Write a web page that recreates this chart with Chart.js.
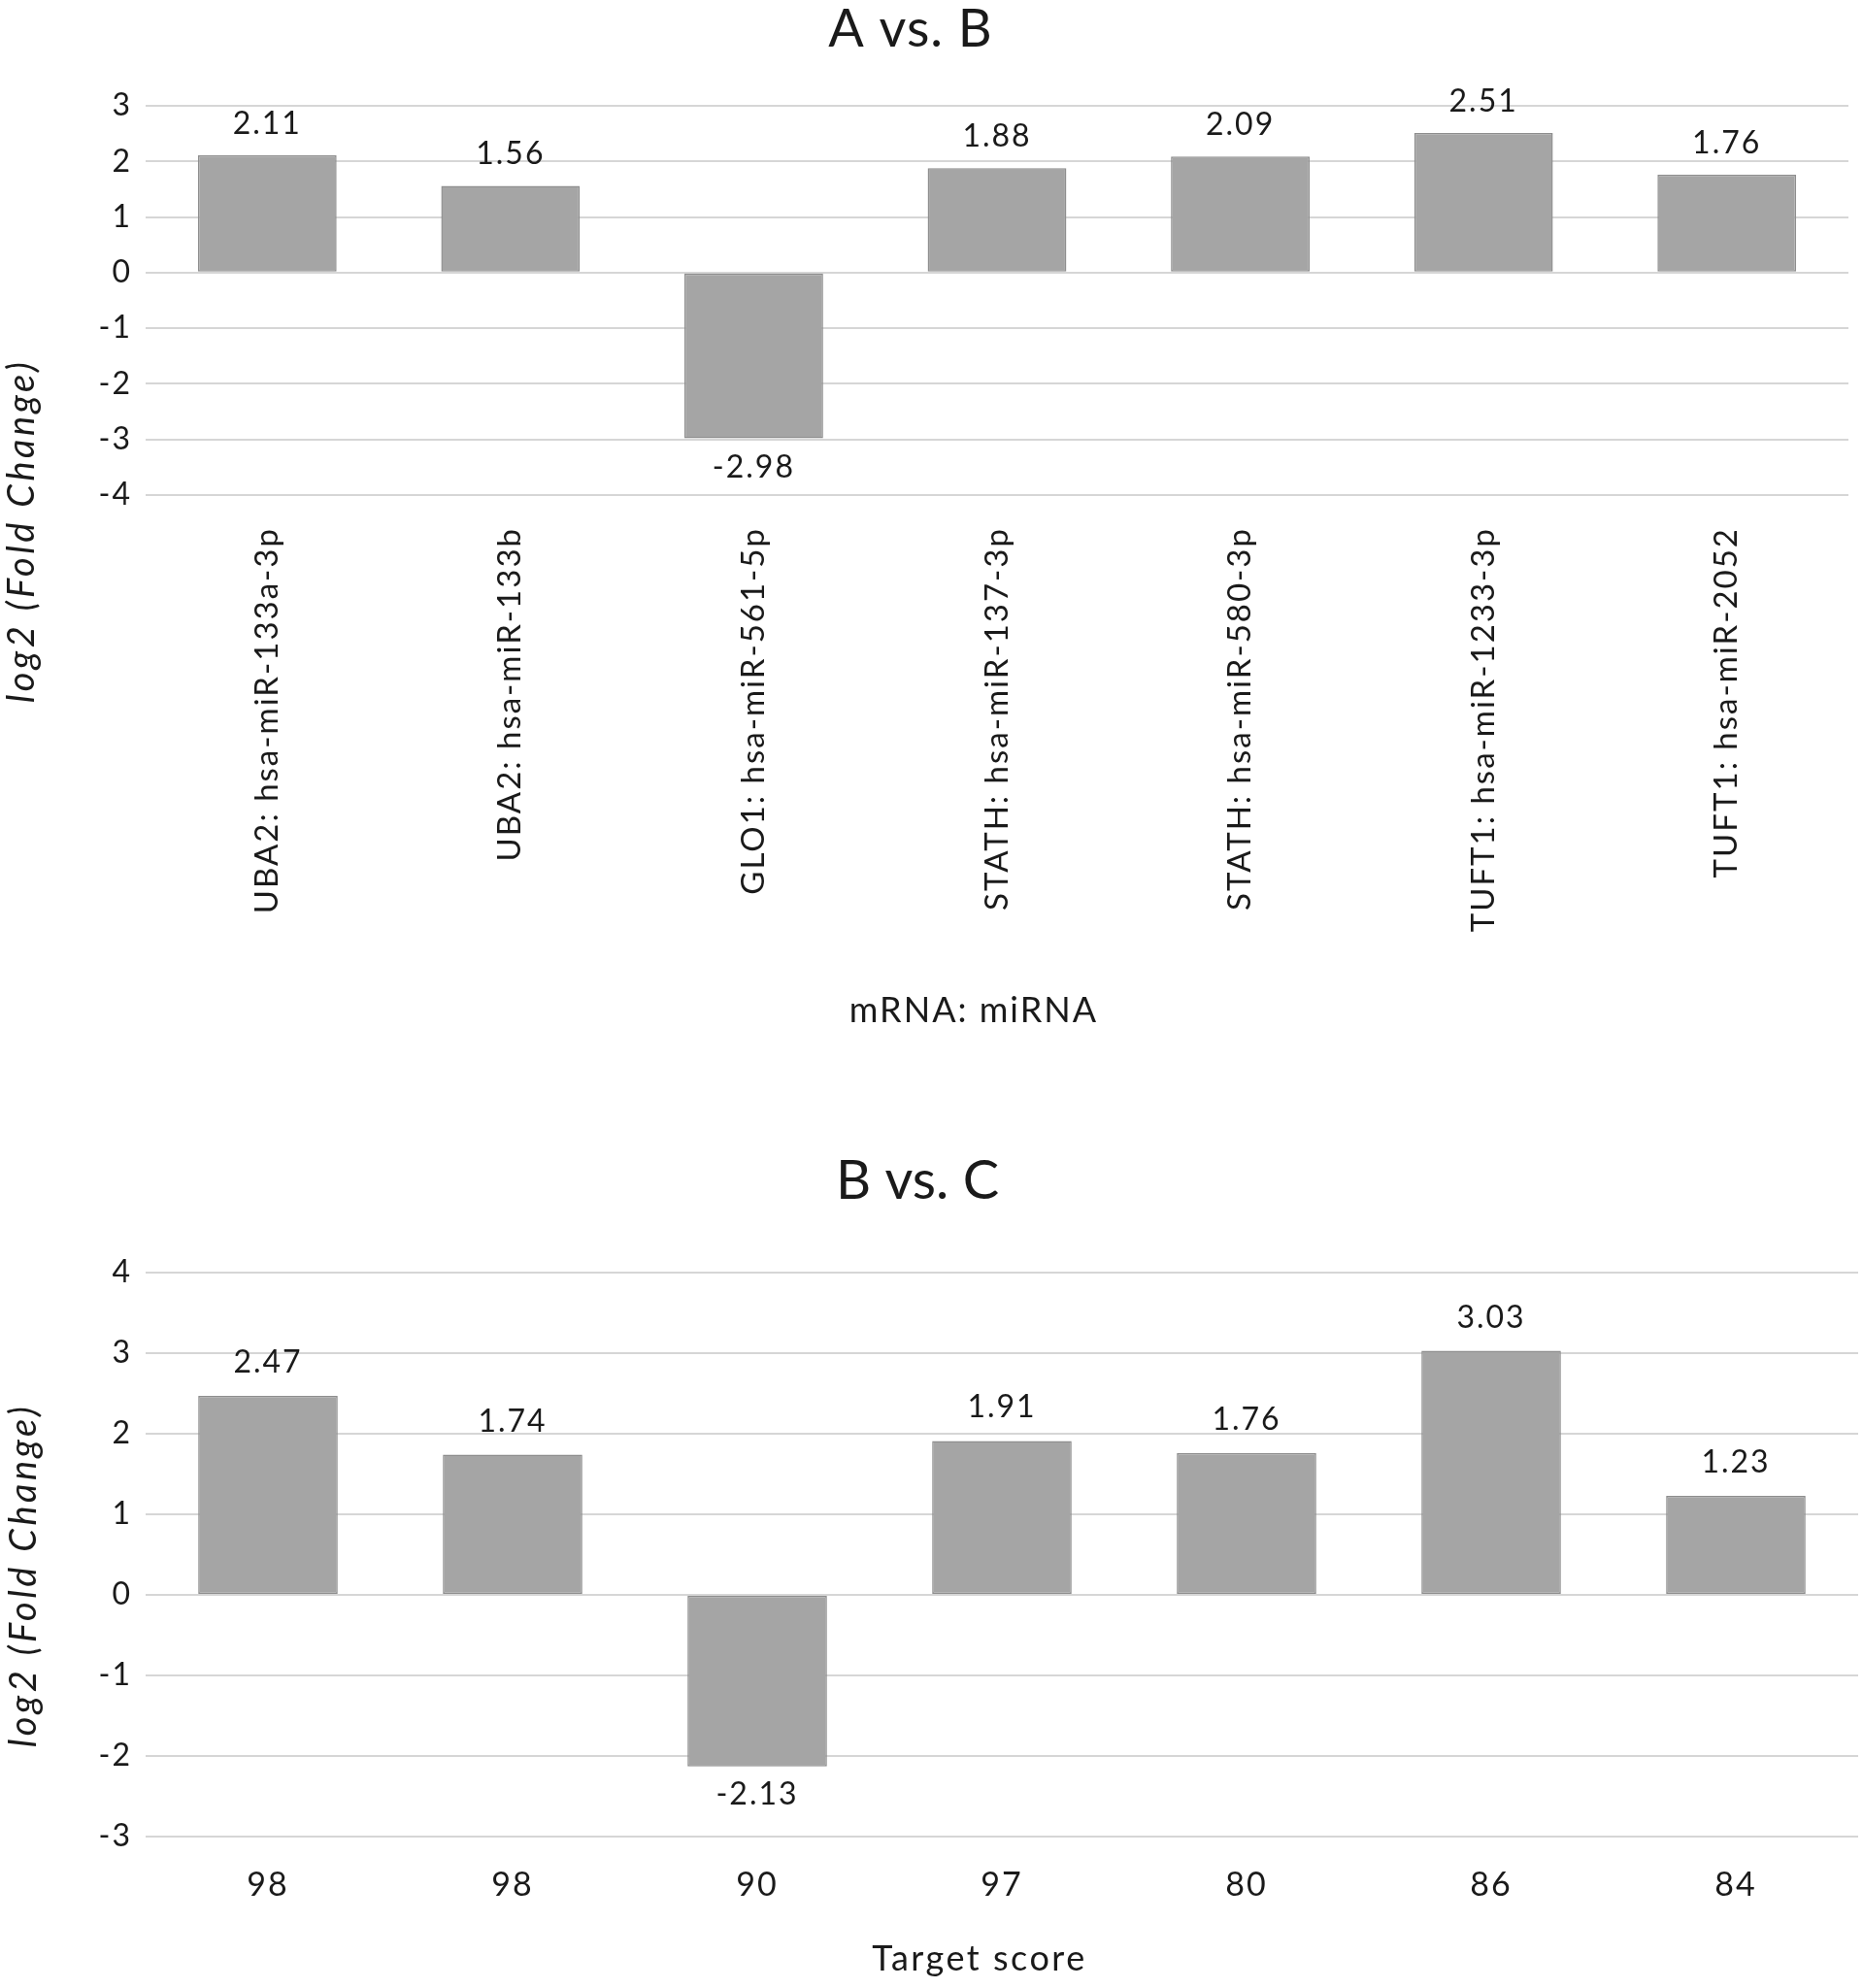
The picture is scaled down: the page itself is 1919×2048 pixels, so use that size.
<!DOCTYPE html>
<html>
<head>
<meta charset="utf-8">
<script src="https://cdn.jsdelivr.net/npm/chart.js@4/dist/chart.umd.min.js"></script>
<style>
  html, body { margin: 0; padding: 0; background: #fff; }
  canvas { position: absolute; left: 0; }
  #chartAB { top: 0; }
  #chartBC { top: 1150px; }
</style>
</head>
<body>
<canvas id="chartAB" width="1919" height="1090" style="width:1919px;height:1090px"></canvas>
<canvas id="chartBC" width="1919" height="898" style="width:1919px;height:898px"></canvas>
<script>
// data
const pairsAB = [
  "UBA2: hsa-miR-133a-3p",
  "UBA2: hsa-miR-133b",
  "GLO1: hsa-miR-561-5p",
  "STATH: hsa-miR-137-3p",
  "STATH: hsa-miR-580-3p",
  "TUFT1: hsa-miR-1233-3p",
  "TUFT1: hsa-miR-2052"
];
const foldAB = [2.11, 1.56, -2.98, 1.88, 2.09, 2.51, 1.76];

const targetScores = ["98", "98", "90", "97", "80", "86", "84"];
const foldBC = [2.47, 1.74, -2.13, 1.91, 1.76, 3.03, 1.23];

const TEXT = "#1a1a1a";
const BAR = "#a5a5a5";
const BAR_EDGE = "#8e8e8e";
const GRID = "#d6d6d6";

Chart.defaults.font.family = "Lato, 'Open Sans', sans-serif";
Chart.defaults.color = TEXT;

// the original font runs a little wider than Lato, so open up the tracking
const tracking = {
  id: "tracking",
  beforeDraw(chart, args, opts) {
    chart.ctx.letterSpacing = opts.px + "px";
  }
};

// value labels above / below each bar
const barValues = {
  id: "barValues",
  afterDatasetsDraw(chart, args, opts) {
    const ctx = chart.ctx;
    const meta = chart.getDatasetMeta(0);
    const data = chart.data.datasets[0].data;
    ctx.save();
    ctx.font = opts.font;
    ctx.fillStyle = TEXT;
    ctx.textAlign = "center";
    meta.data.forEach((bar, i) => {
      const v = data[i];
      if (v >= 0) {
        ctx.textBaseline = "alphabetic";
        ctx.fillText(v.toFixed(2), bar.x, bar.y - opts.above);
      } else {
        ctx.textBaseline = "top";
        ctx.fillText(v.toFixed(2), bar.x, bar.y + opts.below);
      }
    });
    ctx.restore();
  }
};

// chart title and axis titles, placed the way the spreadsheet put them
const captions = {
  id: "captions",
  afterDraw(chart, args, opts) {
    const ctx = chart.ctx;
    opts.items.forEach(it => {
      ctx.save();
      ctx.font = it.font;
      ctx.letterSpacing = (it.spacing || 0) + "px";
      ctx.fillStyle = TEXT;
      ctx.textAlign = "center";
      ctx.textBaseline = "alphabetic";
      ctx.translate(it.x, it.y);
      if (it.rotate) ctx.rotate(it.rotate);
      ctx.fillText(it.text, 0, 0);
      ctx.restore();
    });
  }
};

function makeChart(id, labels, values, cfg) {
  return new Chart(document.getElementById(id), {
    type: "bar",
    data: {
      labels: labels,
      datasets: [{
        data: values,
        backgroundColor: BAR,
        borderColor: BAR_EDGE,
        borderWidth: 1.5,
        borderSkipped: false,
        categoryPercentage: 1,
        barPercentage: 0.57
      }]
    },
    options: {
      responsive: false,
      animation: false,
      devicePixelRatio: 1,
      layout: { padding: { top: cfg.top, right: cfg.right, left: 0, bottom: 0 } },
      plugins: {
        legend: { display: false },
        tooltip: { enabled: false },
        tracking: { px: 2 },
        barValues: { font: "32px Lato", above: cfg.above, below: cfg.below },
        captions: { items: cfg.captions }
      },
      scales: {
        x: {
          grid: { display: false, drawTicks: false },
          border: { display: false },
          ticks: {
            autoSkip: false,
            maxRotation: cfg.rotation,
            minRotation: cfg.rotation,
            padding: cfg.xPad,
            font: { size: cfg.xFont }
          },
          afterFit: s => { s.height = cfg.xHeight; }
        },
        y: {
          min: cfg.min,
          max: cfg.max,
          grid: { color: GRID, lineWidth: 2, drawTicks: false },
          border: { display: false },
          ticks: { stepSize: 1, padding: 14, font: { size: 32 } },
          afterFit: s => { s.width = 150; }
        }
      }
    },
    plugins: [tracking, barValues, captions]
  });
}

makeChart("chartAB", pairsAB, foldAB, {
  top: 109, right: 15, min: -4, max: 3,
  rotation: 90, xPad: 33, xFont: 33, xHeight: 580,
  above: 22, below: 14,
  captions: [
    { text: "A vs. B", x: 938, y: 48, font: "54px Lato", spacing: 1 },
    { text: "mRNA: miRNA", x: 1003, y: 1053, font: "36px Lato", spacing: 2 },
    { text: "log2 (Fold Change)", x: 35, y: 547, rotate: -Math.PI / 2, font: "italic 38px Lato", spacing: 3.5 }
  ]
});

makeChart("chartBC", targetScores, foldBC, {
  top: 161, right: 5, min: -3, max: 4,
  rotation: 0, xPad: 30, xFont: 34, xHeight: 156,
  above: 24, below: 13,
  captions: [
    { text: "B vs. C", x: 945, y: 85, font: "56px Lato", spacing: 0 },
    { text: "Target score", x: 1009, y: 880, font: "36px Lato", spacing: 2.5 },
    { text: "log2 (Fold Change)", x: 37, y: 473, rotate: -Math.PI / 2, font: "italic 38px Lato", spacing: 3.5 }
  ]
});
</script>
</body>
</html>
